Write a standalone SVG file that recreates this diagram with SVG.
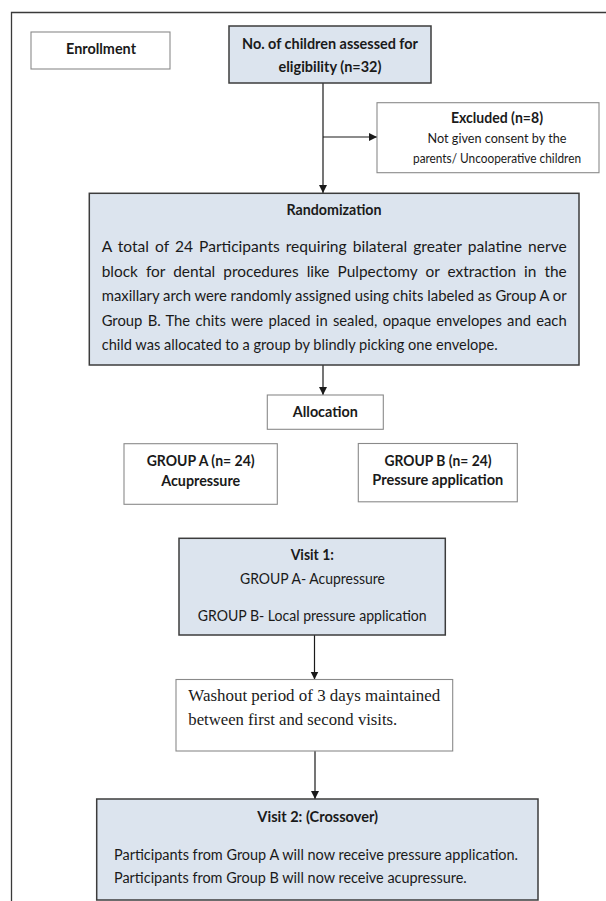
<svg xmlns="http://www.w3.org/2000/svg" width="606" height="901" viewBox="0 0 606 901">
<style>
.bg{fill:#ffffff}
.blue{fill:#dce4ee;stroke:#3c3c3c;stroke-width:1.5}
.plain{fill:#ffffff;stroke:#8a8a8a;stroke-width:1.1}
.t{font-family:Lato,"Liberation Sans",sans-serif;font-size:15.5px;fill:#1a1a1a}
.p{font-size:15px}
.b{font-weight:bold}
.s{font-size:13.5px}
.serif{font-family:"Liberation Serif","DejaVu Serif",serif;font-size:16.5px;fill:#1a1a1a}
.m{text-anchor:middle}
.conn{stroke:#1a1a1a;stroke-width:1.2;fill:none}
</style>
<defs>
<marker id="arr" markerUnits="userSpaceOnUse" markerWidth="9" markerHeight="9" refX="8" refY="4" orient="auto">
<path d="M0,0 L8,4 L0,8 z" fill="#1a1a1a"/>
</marker>
</defs>
<rect class="bg" x="0" y="0" width="606" height="901"/>
<g id="frame">
<path d="M11.5,901 L11.5,12.5 L606,12.5" fill="none" stroke="#3a3a3a" stroke-width="1.3"/>
</g>
<g id="connectors">
<line class="conn" x1="323" y1="83" x2="323" y2="193" marker-end="url(#arr)"/>
<line class="conn" x1="323" y1="137" x2="377" y2="137" marker-end="url(#arr)"/>
<line class="conn" x1="323" y1="365" x2="323" y2="395" marker-end="url(#arr)"/>
<line class="conn" x1="314.5" y1="635" x2="314.5" y2="679.5" marker-end="url(#arr)"/>
<line class="conn" x1="315" y1="751" x2="315" y2="799" marker-end="url(#arr)"/>
</g>
<g id="enrollment">
<rect class="plain" x="31" y="32" width="139" height="37"/>
<text class="t b m" x="101" y="54" textLength="70" lengthAdjust="spacingAndGlyphs">Enrollment</text>
</g>
<g id="assessed">
<rect class="blue" x="229" y="26" width="202" height="57"/>
<text class="t b m" x="330" y="48.5" textLength="176" lengthAdjust="spacingAndGlyphs">No. of children assessed for</text>
<text class="t b m" x="330" y="72" textLength="103" lengthAdjust="spacingAndGlyphs">eligibility (n=32)</text>
</g>
<g id="excluded">
<rect class="plain" x="377" y="102.7" width="222" height="70"/>
<text class="t b m" x="497" y="123" textLength="92" lengthAdjust="spacingAndGlyphs">Excluded (n=8)</text>
<text class="t s m" x="497" y="143" textLength="139" lengthAdjust="spacingAndGlyphs">Not given consent by the</text>
<text class="t s m" x="497" y="163" textLength="168" lengthAdjust="spacingAndGlyphs">parents/ Uncooperative children</text>
</g>
<g id="randomization">
<rect class="blue" x="89.3" y="193.3" width="489.7" height="171.7"/>
<text class="t b m" x="334" y="215" textLength="95" lengthAdjust="spacingAndGlyphs">Randomization</text>
<text class="t p" x="101.7" y="252" textLength="465" lengthAdjust="spacingAndGlyphs" word-spacing="2">A total of 24 Participants requiring bilateral greater palatine nerve</text>
<text class="t p" x="101.7" y="276.5" textLength="465" lengthAdjust="spacingAndGlyphs" word-spacing="4">block for dental procedures like Pulpectomy or extraction in the</text>
<text class="t p" x="101.7" y="301" textLength="465" lengthAdjust="spacingAndGlyphs">maxillary arch were randomly assigned using chits labeled as Group A or</text>
<text class="t p" x="101.7" y="325.5" textLength="465" lengthAdjust="spacingAndGlyphs" word-spacing="1.5">Group B. The chits were placed in sealed, opaque envelopes and each</text>
<text class="t p" x="101.7" y="350" textLength="396" lengthAdjust="spacingAndGlyphs">child was allocated to a group by blindly picking one envelope.</text>
</g>
<g id="allocation">
<rect class="plain" x="267.3" y="395" width="116" height="34.3"/>
<text class="t b m" x="325.3" y="417" textLength="65" lengthAdjust="spacingAndGlyphs">Allocation</text>
</g>
<g id="groupA">
<rect class="plain" x="124" y="443.7" width="153.3" height="60.6"/>
<text class="t b m" x="200.7" y="466" textLength="108" lengthAdjust="spacingAndGlyphs">GROUP A (n= 24)</text>
<text class="t b m" x="200.7" y="485.5" textLength="79" lengthAdjust="spacingAndGlyphs">Acupressure</text>
</g>
<g id="groupB">
<rect class="plain" x="358.3" y="443.5" width="159" height="58.3"/>
<text class="t b m" x="438" y="466" textLength="107" lengthAdjust="spacingAndGlyphs">GROUP B (n= 24)</text>
<text class="t b m" x="437.8" y="485" textLength="131" lengthAdjust="spacingAndGlyphs">Pressure application</text>
</g>
<g id="visit1">
<rect class="blue" x="179" y="538.3" width="266.3" height="96.7"/>
<text class="t b m" x="312.3" y="560" textLength="43.3" lengthAdjust="spacingAndGlyphs">Visit 1:</text>
<text class="t m" x="312.5" y="583.5" textLength="145" lengthAdjust="spacingAndGlyphs">GROUP A- Acupressure</text>
<text class="t m" x="312.2" y="621" textLength="229" lengthAdjust="spacingAndGlyphs">GROUP B- Local pressure application</text>
</g>
<g id="washout">
<rect class="plain" x="176" y="679.5" width="276.7" height="71.5"/>
<text class="serif" x="188.3" y="701" textLength="252" lengthAdjust="spacingAndGlyphs">Washout period of 3 days maintained</text>
<text class="serif" x="188.3" y="724.5" textLength="209" lengthAdjust="spacingAndGlyphs">between first and second visits.</text>
</g>
<g id="visit2">
<rect class="blue" x="96.7" y="799" width="441.3" height="101"/>
<text class="t b m" x="317.7" y="822" textLength="120.7" lengthAdjust="spacingAndGlyphs">Visit 2: (Crossover)</text>
<text class="t" x="114" y="860" textLength="404" lengthAdjust="spacingAndGlyphs">Participants from Group A will now receive pressure application.</text>
<text class="t" x="114" y="882.5" textLength="352.7" lengthAdjust="spacingAndGlyphs">Participants from Group B will now receive acupressure.</text>
</g>
</svg>
